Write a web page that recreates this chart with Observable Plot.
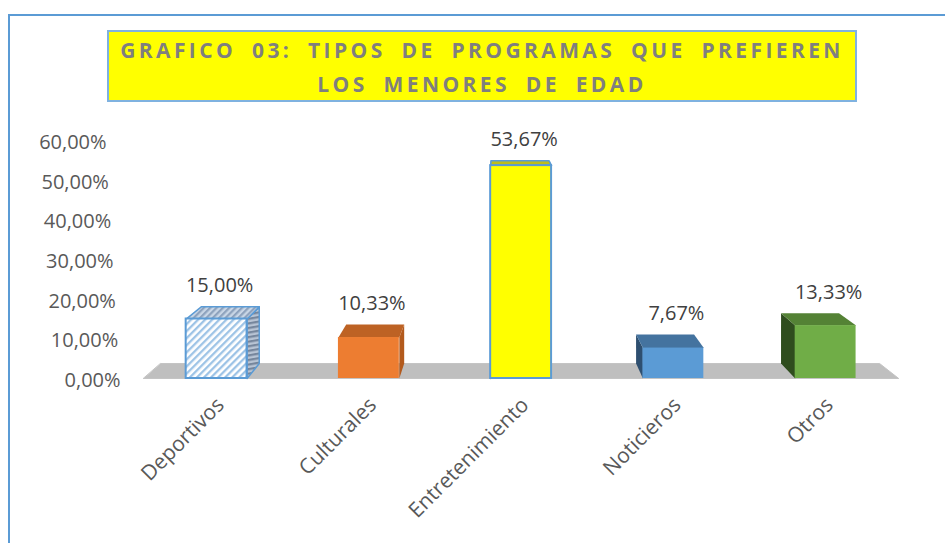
<!DOCTYPE html>
<html><head><meta charset="utf-8">
<script src="https://cdn.jsdelivr.net/npm/d3@7"></script>
<script src="https://cdn.jsdelivr.net/npm/@observablehq/plot@0.6"></script>
<style>
html,body{margin:0;padding:0;background:#fff;}
#wrap{position:relative;width:945px;height:543px;overflow:hidden;font-family:"Open Sans",sans-serif;}
#frame{position:absolute;left:8px;top:14px;width:1000px;height:600px;border-left:2.5px solid #5b9bd5;border-top:2.5px solid #5b9bd5;}
#chart{position:absolute;left:0;top:0;}
#title{position:absolute;left:107px;top:30px;width:746px;height:67px;background:#ffff00;border:2px solid #7fb2e0;
  color:#7f7f7f;font-weight:bold;font-size:21px;text-align:center;line-height:34px;letter-spacing:3.4px;word-spacing:7px;padding-top:1px;white-space:nowrap;}
</style></head>
<body>
<svg width="0" height="0" style="position:absolute">
  <defs>
    <pattern id="hFront" width="5" height="5" patternUnits="userSpaceOnUse" patternTransform="rotate(45)">
      <rect width="5" height="5" fill="#ffffff"/><rect width="2.3" height="5" fill="#9dc3e6"/>
    </pattern>
    <pattern id="hTop" width="4.5" height="4.5" patternUnits="userSpaceOnUse" patternTransform="rotate(45)">
      <rect width="4.5" height="4.5" fill="#c9d6e6"/><rect width="2.2" height="4.5" fill="#8ea2bd"/>
    </pattern>
    <pattern id="hSide" width="4.5" height="4.5" patternUnits="userSpaceOnUse" patternTransform="rotate(80)">
      <rect width="4.5" height="4.5" fill="#b8c4d4"/><rect width="2.2" height="4.5" fill="#76869c"/>
    </pattern>
  </defs>
</svg>
<div id="wrap">
  <div id="frame"></div>
  <div id="chart"></div>
  <div id="title">GRAFICO 03: TIPOS DE PROGRAMAS QUE PREFIEREN<br>LOS MENORES DE EDAD</div>
</div>
<script>
// ---- data ----
const categories = ["Deportivos", "Culturales", "Entretenimiento", "Noticieros", "Otros"];
const values = [15.00, 10.33, 53.67, 7.67, 13.33];
const valueLabels = ["15,00%", "10,33%", "53,67%", "7,67%", "13,33%"];
const yTicks = [0, 10, 20, 30, 40, 50, 60];
const yTickLabels = ["0,00%", "10,00%", "20,00%", "30,00%", "40,00%", "50,00%", "60,00%"];

// ---- styles ----
const frontFill = ["url(#hFront)", "#ed7d31", "#ffff00", "#5b9bd5", "#70ad47"];
const topFill   = ["url(#hTop)", "#bd6224", "#bdbd1a", "#44739f", "#548235"];
const sideFill  = ["url(#hSide)", "#b35a1d", "#c8c800", "#2e4f70", "#2f4d1e"];
const edge      = ["#5b9bd5", "none", "#5b9bd5", "none", "none"];

// perspective (in data units)
const VX = 1.865, VY = 78.75, T = 0.048, HW = 0.2;
const back = ([x, y]) => [x + (VX - x) * T, y + (VY - y) * T];
const polyMark = (pts, opts) => Plot.line(pts.map(([x, y]) => ({x, y})),
  {x: "x", y: "y", curve: "linear-closed", strokeLinejoin: "round", ...opts});

const marks = [];
// floor
const fl = [-0.48, 0], fr = [4.48, 0];
marks.push(polyMark([fl, fr, back(fr), back(fl)], {fill: "#bfbfbf", stroke: "#c4c4c4", strokeWidth: 1}));

values.forEach((v, i) => {
  const x1 = i - HW, x2 = i + HW;
  const sx = i < VX ? x2 : x1;
  const st = edge[i] === "none" ? "none" : edge[i];
  const sw = edge[i] === "none" ? 0 : 1.5;
  marks.push(polyMark([[sx, 0], [sx, v], back([sx, v]), back([sx, 0])], {fill: sideFill[i], stroke: st, strokeWidth: sw}));
  marks.push(polyMark([[x1, v], [x2, v], back([x2, v]), back([x1, v])], {fill: topFill[i], stroke: st, strokeWidth: sw}));
  marks.push(Plot.rect([{x1, x2, y1: 0, y2: v}], {x1: "x1", x2: "x2", y1: "y1", y2: "y2", fill: frontFill[i], stroke: st, strokeWidth: edge[i] === "none" ? 0 : 2}));
});

// value labels
marks.push(Plot.text(values, {
  x: (d, i) => i, y: d => back([0, d])[1], text: (d, i) => valueLabels[i],
  dx: 3, dy: -21, fontSize: 20, fill: "#404040"
}));
// category labels
marks.push(Plot.text(categories, {
  x: (d, i) => i, y: 0, text: d => d, rotate: -45, textAnchor: "end",
  dx: 4, dy: 23, fontSize: 21, fill: "#595959"
}));
// y tick labels (slanted 3D axis)
marks.push(Plot.text(yTicks, {
  x: v => -0.631 - 0.00153 * v, y: v => v, text: (v, i) => yTickLabels[i],
  textAnchor: "end", dy: 2, fontSize: 20, fill: "#595959"
}));

const chart = Plot.plot({
  width: 945, height: 543,
  marginLeft: 140, marginRight: 43.75, marginTop: 140, marginBottom: 165,
  style: {background: "transparent", fontFamily: "Open Sans, sans-serif"},
  x: {domain: [-0.5, 4.5], axis: null},
  y: {domain: [0, 60], axis: null},
  marks
});
document.getElementById("chart").appendChild(chart);
</script>
</body></html>
